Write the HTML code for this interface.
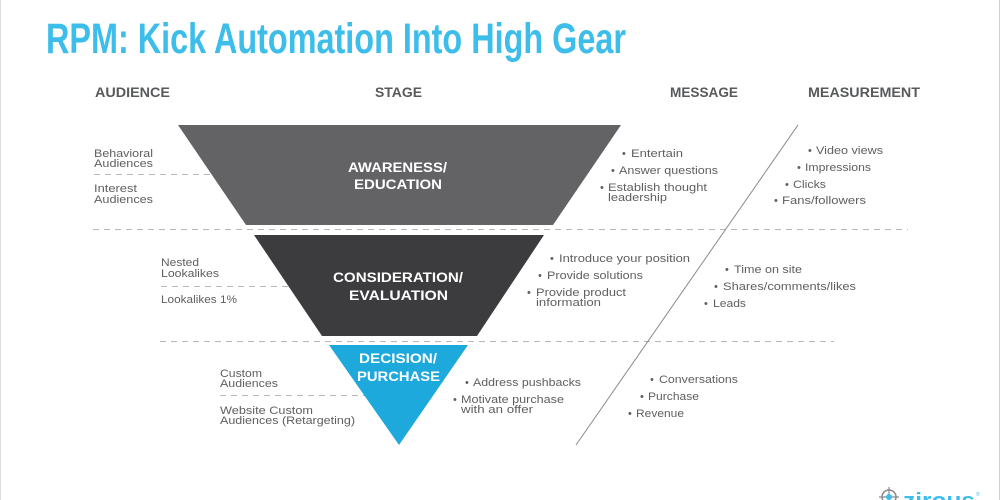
<!DOCTYPE html>
<html>
<head>
<meta charset="utf-8">
<style>
html,body{margin:0;padding:0;background:#fff;}
body{width:1000px;height:500px;overflow:hidden;}
svg{display:block;}
.b{font-family:"Liberation Sans",sans-serif;font-size:11px;fill:#5e5f61;}
.h{font-family:"Liberation Sans",sans-serif;font-size:13.5px;font-weight:bold;fill:#58595b;}
.s{font-family:"Liberation Sans",sans-serif;font-size:13.5px;font-weight:bold;fill:#fff;}
.d{stroke:#b8b8b8;stroke-width:1;stroke-dasharray:6 5;fill:none;}
</style>
</head>
<body>
<svg width="1000" height="500" viewBox="0 0 1000 500" xmlns="http://www.w3.org/2000/svg">
<rect x="0" y="0" width="1000" height="500" fill="#ffffff"/>
<line x1="0.5" y1="0" x2="0.5" y2="500" stroke="#dcdcdc" stroke-width="1"/>
<line x1="999.5" y1="0" x2="999.5" y2="500" stroke="#cfcfcf" stroke-width="1"/>

<!-- Title -->
<text x="46" y="53" font-family="Liberation Sans, sans-serif" font-size="43" font-weight="bold" fill="#3dbde9" textLength="580" lengthAdjust="spacingAndGlyphs">RPM: Kick Automation Into High Gear</text>

<!-- Headers -->
<text class="h" x="95" y="97" textLength="75" lengthAdjust="spacingAndGlyphs">AUDIENCE</text>
<text class="h" x="375" y="97" textLength="47" lengthAdjust="spacingAndGlyphs">STAGE</text>
<text class="h" x="670" y="97" textLength="68" lengthAdjust="spacingAndGlyphs">MESSAGE</text>
<text class="h" x="808" y="97" textLength="112" lengthAdjust="spacingAndGlyphs">MEASUREMENT</text>

<!-- Dashed lines -->
<line class="d" x1="94" y1="174.5" x2="240" y2="174.5"/>
<line class="d" x1="93" y1="229.5" x2="908" y2="229.5"/>
<line class="d" x1="161" y1="286.5" x2="300" y2="286.5"/>
<line class="d" x1="160" y1="341.5" x2="834" y2="341.5"/>
<line class="d" x1="220" y1="395.5" x2="370" y2="395.5"/>

<!-- Diagonal -->
<line x1="798" y1="125" x2="576" y2="445" stroke="#8a8a8a" stroke-width="1"/>

<!-- Funnel shapes -->
<polygon points="178,125 621,125 553,225 246,225" fill="#636365"/>
<polygon points="254,235 544,235 477,336 322,336" fill="#3c3c3e"/>
<polygon points="329,345 468,345 399,445" fill="#1ea9dc"/>

<!-- Stage labels -->
<text class="s" x="348" y="172" textLength="99" lengthAdjust="spacingAndGlyphs">AWARENESS/</text>
<text class="s" x="354" y="189" textLength="88" lengthAdjust="spacingAndGlyphs">EDUCATION</text>
<text class="s" x="333" y="282" textLength="130" lengthAdjust="spacingAndGlyphs">CONSIDERATION/</text>
<text class="s" x="349" y="300" textLength="99" lengthAdjust="spacingAndGlyphs">EVALUATION</text>
<text class="s" x="359" y="363" textLength="78" lengthAdjust="spacingAndGlyphs">DECISION/</text>
<text class="s" x="357" y="381" textLength="83" lengthAdjust="spacingAndGlyphs">PURCHASE</text>

<!-- Audience -->
<text class="b" x="94" y="157" textLength="59" lengthAdjust="spacingAndGlyphs">Behavioral</text>
<text class="b" x="94" y="167" textLength="59" lengthAdjust="spacingAndGlyphs">Audiences</text>
<text class="b" x="94" y="192" textLength="43" lengthAdjust="spacingAndGlyphs">Interest</text>
<text class="b" x="94" y="203" textLength="59" lengthAdjust="spacingAndGlyphs">Audiences</text>

<text class="b" x="161" y="266" textLength="38" lengthAdjust="spacingAndGlyphs">Nested</text>
<text class="b" x="161" y="277" textLength="58" lengthAdjust="spacingAndGlyphs">Lookalikes</text>
<text class="b" x="161" y="303" textLength="76" lengthAdjust="spacingAndGlyphs">Lookalikes 1%</text>

<text class="b" x="220" y="377" textLength="42" lengthAdjust="spacingAndGlyphs">Custom</text>
<text class="b" x="220" y="387" textLength="58" lengthAdjust="spacingAndGlyphs">Audiences</text>
<text class="b" x="220" y="414" textLength="93" lengthAdjust="spacingAndGlyphs">Website Custom</text>
<text class="b" x="220" y="424" textLength="135" lengthAdjust="spacingAndGlyphs">Audiences (Retargeting)</text>

<!-- Message -->
<text class="b" x="622" y="157">•</text>
<text class="b" x="631" y="157" textLength="52" lengthAdjust="spacingAndGlyphs">Entertain</text>
<text class="b" x="611" y="174">•</text>
<text class="b" x="619" y="174" textLength="99" lengthAdjust="spacingAndGlyphs">Answer questions</text>
<text class="b" x="600" y="191">•</text>
<text class="b" x="608" y="191" textLength="99" lengthAdjust="spacingAndGlyphs">Establish thought</text>
<text class="b" x="608" y="201" textLength="59" lengthAdjust="spacingAndGlyphs">leadership</text>

<text class="b" x="550" y="262">•</text>
<text class="b" x="559" y="262" textLength="131" lengthAdjust="spacingAndGlyphs">Introduce your position</text>
<text class="b" x="538" y="279">•</text>
<text class="b" x="547" y="279" textLength="96" lengthAdjust="spacingAndGlyphs">Provide solutions</text>
<text class="b" x="527" y="296">•</text>
<text class="b" x="536" y="296" textLength="90" lengthAdjust="spacingAndGlyphs">Provide product</text>
<text class="b" x="536" y="306" textLength="65" lengthAdjust="spacingAndGlyphs">information</text>

<text class="b" x="465" y="386">•</text>
<text class="b" x="473" y="386" textLength="108" lengthAdjust="spacingAndGlyphs">Address pushbacks</text>
<text class="b" x="453" y="403">•</text>
<text class="b" x="461" y="403" textLength="103" lengthAdjust="spacingAndGlyphs">Motivate purchase</text>
<text class="b" x="461" y="413" textLength="72" lengthAdjust="spacingAndGlyphs">with an offer</text>

<!-- Measurement -->
<text class="b" x="808" y="154">•</text>
<text class="b" x="816" y="154" textLength="67" lengthAdjust="spacingAndGlyphs">Video views</text>
<text class="b" x="797" y="171">•</text>
<text class="b" x="805" y="171" textLength="66" lengthAdjust="spacingAndGlyphs">Impressions</text>
<text class="b" x="785" y="188">•</text>
<text class="b" x="793" y="188" textLength="33" lengthAdjust="spacingAndGlyphs">Clicks</text>
<text class="b" x="774" y="204">•</text>
<text class="b" x="782" y="204" textLength="84" lengthAdjust="spacingAndGlyphs">Fans/followers</text>

<text class="b" x="725" y="273">•</text>
<text class="b" x="734" y="273" textLength="68" lengthAdjust="spacingAndGlyphs">Time on site</text>
<text class="b" x="714" y="290">•</text>
<text class="b" x="723" y="290" textLength="133" lengthAdjust="spacingAndGlyphs">Shares/comments/likes</text>
<text class="b" x="704" y="307">•</text>
<text class="b" x="713" y="307" textLength="33" lengthAdjust="spacingAndGlyphs">Leads</text>

<text class="b" x="650" y="383">•</text>
<text class="b" x="659" y="383" textLength="79" lengthAdjust="spacingAndGlyphs">Conversations</text>
<text class="b" x="640" y="400">•</text>
<text class="b" x="648" y="400" textLength="51" lengthAdjust="spacingAndGlyphs">Purchase</text>
<text class="b" x="628" y="417">•</text>
<text class="b" x="636" y="417" textLength="48" lengthAdjust="spacingAndGlyphs">Revenue</text>

<!-- Logo -->
<circle cx="889" cy="497" r="7" fill="none" stroke="#8a8a8a" stroke-width="1.5"/>
<line x1="889" y1="487" x2="889" y2="500" stroke="#8a8a8a" stroke-width="1.2"/>
<line x1="879" y1="497" x2="899" y2="497" stroke="#8a8a8a" stroke-width="1.2"/>
<circle cx="889" cy="497" r="3" fill="#3dbde9"/>
<text x="903" y="508" font-family="Liberation Sans, sans-serif" font-size="22" font-weight="bold" fill="#3dbde9" textLength="72" lengthAdjust="spacingAndGlyphs">zirous</text>
<text x="976" y="496" font-family="Liberation Sans, sans-serif" font-size="5" fill="#3dbde9">®</text>
</svg>
</body>
</html>
